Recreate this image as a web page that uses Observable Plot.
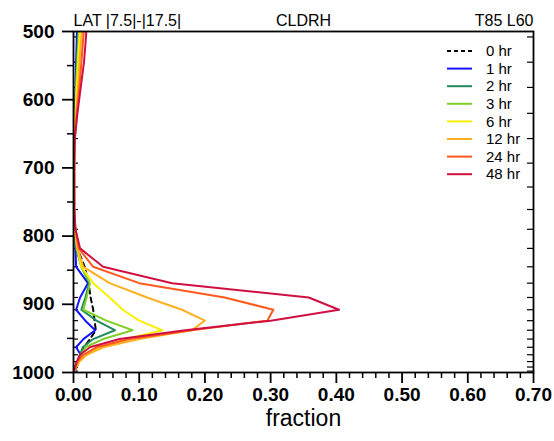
<!DOCTYPE html>
<html><head><meta charset="utf-8">
<script src="https://cdn.jsdelivr.net/npm/d3@7"></script>
<script src="https://cdn.jsdelivr.net/npm/@observablehq/plot@0.6"></script>
<style>body{margin:0;background:#fff;font-family:"Liberation Sans",Arial,sans-serif}</style>
</head><body><div id="chart"></div>
<script>
const levels = [471,508,545,582,620,657,693,728,761,790,818,845,869,890,908,924,938,951,963,974,984,992,998];
const hr0  = [0.007,0.006,0.005,0.004,0.003,0.002,0.001,0.001,0.001,0.002,0.006,0.017,0.023,0.026,0.030,0.032,0.034,0.025,0.016,0.012,0.008,0.005,0.002];
const hr1  = [0.006,0.005,0.004,0.003,0.002,0.001,0.001,0.001,0.001,0.002,0.003,0.004,0.022,0.010,0.004,0.018,0.033,0.015,0.004,0.011,0.006,0.003,0.001];
const hr2  = [0.008,0.007,0.005,0.004,0.003,0.002,0.001,0.001,0.001,0.002,0.004,0.012,0.024,0.018,0.012,0.035,0.063,0.030,0.014,0.010,0.006,0.003,0.001];
const hr3  = [0.009,0.008,0.006,0.004,0.003,0.002,0.001,0.001,0.001,0.002,0.005,0.012,0.025,0.020,0.015,0.050,0.090,0.045,0.018,0.012,0.007,0.003,0.001];
const hr6  = [0.011,0.009,0.007,0.005,0.003,0.002,0.001,0.001,0.001,0.002,0.006,0.012,0.030,0.055,0.075,0.100,0.135,0.080,0.040,0.020,0.009,0.004,0.001];
const hr12 = [0.014,0.012,0.009,0.007,0.004,0.002,0.001,0.001,0.001,0.002,0.006,0.015,0.055,0.112,0.165,0.200,0.180,0.100,0.045,0.020,0.009,0.004,0.001];
const hr24 = [0.017,0.015,0.012,0.009,0.005,0.002,0.001,0.001,0.001,0.003,0.008,0.030,0.100,0.230,0.304,0.295,0.180,0.085,0.035,0.015,0.006,0.003,0.001];
const hr48 = [0.021,0.019,0.016,0.011,0.006,0.002,0.001,0.001,0.001,0.003,0.010,0.045,0.150,0.358,0.404,0.300,0.170,0.070,0.025,0.010,0.005,0.002,0.001];
const seriesNames = ["0 hr","1 hr","2 hr","3 hr","6 hr","12 hr","24 hr","48 hr"];
const seriesValues = [hr0,hr1,hr2,hr3,hr6,hr12,hr24,hr48];
const seriesColors = ["#000000","#1414ff","#1f8a5a","#80d028","#f8f000","#ffb020","#ff5a1e","#d01040"];
const xMajor = [0,0.1,0.2,0.3,0.4,0.5,0.6,0.7];
const yMajor = [500,600,700,800,900,1000];
const titles = {left:"LAT |7.5|-|17.5|", center:"CLDRH", right:"T85 L60"};
const xLabel = "fraction";

const rows = [];
seriesNames.forEach((name,i)=>levels.forEach((p,j)=>rows.push({series:name, p, v:seriesValues[i][j], i})));

const W=554,H=441,mL=73,mR=21,mT=31,mB=69;
const pw = W-mL-mR;
const xMinor = d3.range(0,0.7001,0.02).filter(v=>Math.abs(v*10-Math.round(v*10))>1e-6);
const yMinor = d3.range(550,1000,100);
const inLevels = levels.filter(p=>p>=500 && p<1000);
const font = "'Liberation Sans', Arial, sans-serif";

const marks = [
  Plot.axisX({ticks:xMinor, tickSize:6, strokeWidth:1.5, text:null, label:null}),
  Plot.axisX({ticks:xMajor, tickSize:11, strokeWidth:1.8, tickPadding:4, tickFormat:d=>d.toFixed(2), fontSize:19, fontWeight:"bold", label:null}),
  Plot.axisY({ticks:yMinor, tickSize:6, strokeWidth:1.5, text:null, label:null}),
  Plot.axisY({ticks:yMajor, tickSize:11, strokeWidth:1.8, tickPadding:8, tickFormat:d=>String(d), fontSize:19, fontWeight:"bold", label:null}),
  Plot.tickY(inLevels, {y:d=>d, insetLeft:pw-6, stroke:"black", strokeWidth:1.2}),
  Plot.tickY(inLevels, {y:d=>d, insetRight:pw-5, stroke:"black", strokeWidth:1.2}),
];
seriesNames.forEach((name,i)=>{
  marks.push(Plot.line(rows.filter(r=>r.i===i), {x:"v", y:"p", stroke:seriesColors[i], strokeWidth:2,
    strokeDasharray: i===0 ? "5,4" : null, curve:"linear", clip:true}));
});
marks.push(Plot.frame({stroke:"black", strokeWidth:1.8}));
marks.push(Plot.text([titles.left], {frameAnchor:"top-left", dy:-17, fontSize:16}));
marks.push(Plot.text([titles.center], {frameAnchor:"top", dy:-17, fontSize:16}));
marks.push(Plot.text([titles.right], {frameAnchor:"top-right", dy:-17, fontSize:16}));
marks.push(Plot.text([xLabel], {frameAnchor:"bottom", dy:53, fontSize:23}));

const chart = Plot.plot({
  width:W, height:H, marginLeft:mL, marginRight:mR, marginTop:mT, marginBottom:mB,
  style:{fontFamily:font, color:"black", background:"white"},
  x:{domain:[0,0.7], axis:null},
  y:{domain:[500,1000], reverse:true, axis:null},
  marks
});
document.getElementById("chart").appendChild(chart);

// legend inside plot, top-right
const svg = d3.select(chart);
const lg = svg.append("g").attr("font-family",font).attr("font-size",15).attr("text-anchor","start");
seriesNames.forEach((name,i)=>{
  const y = 51 + i*17.6;
  lg.append("line").attr("x1",447).attr("x2",472).attr("y1",y).attr("y2",y)
    .attr("stroke",seriesColors[i]).attr("stroke-width",2)
    .attr("stroke-dasharray", i===0 ? "4,3" : null);
  lg.append("text").attr("x",486).attr("y",y).attr("dy","0.35em").attr("fill","black")
    .attr("text-anchor","start").text(name);
});
</script></body></html>
